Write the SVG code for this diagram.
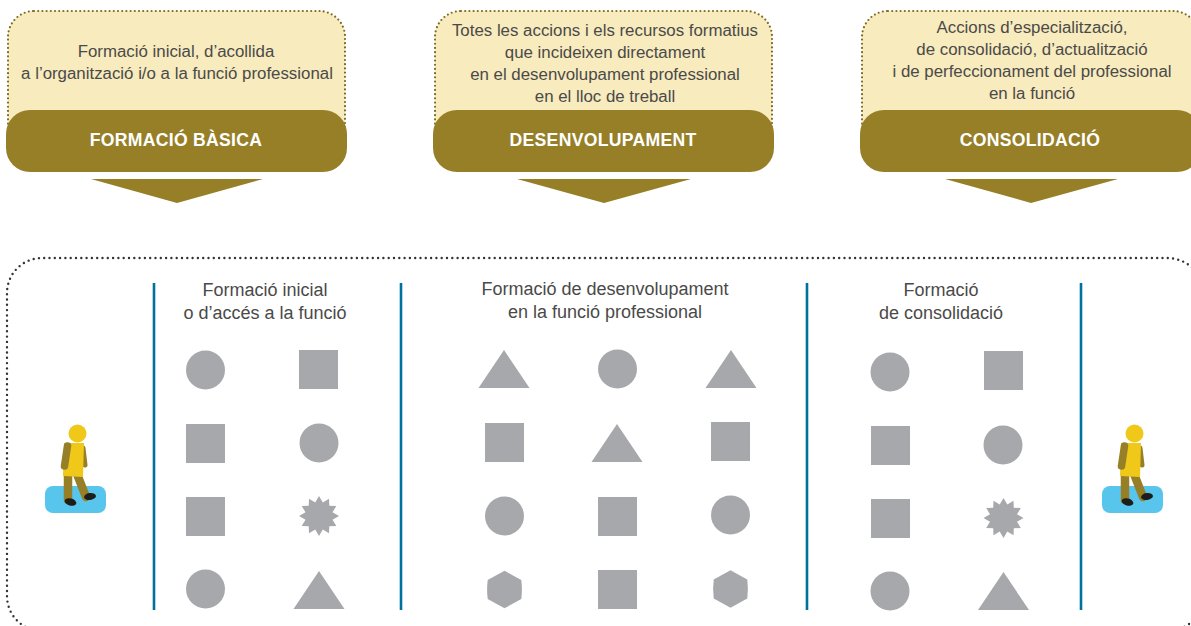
<svg xmlns="http://www.w3.org/2000/svg" xmlns:xlink="http://www.w3.org/1999/xlink" width="1191" height="626" viewBox="0 0 1191 626">
<style>
text{font-family:"Liberation Sans",Arial,sans-serif;font-size:16.85px;fill:#4a4a49;text-anchor:middle}
.ch{font-size:18px}
.h{font-weight:700;font-size:17.6px;fill:#fff;letter-spacing:.3px}
.panel{fill:#f8ebbd;stroke:#7d6c1f;stroke-width:2.200;stroke-dasharray:0 4.200;stroke-linecap:round}
.band,.tri{fill:#967f27}
.s{fill:#a7a8ab}
.v{stroke:#00709f;stroke-width:2.6;fill:none}
.f{fill:none;stroke:#333;stroke-width:2.400;stroke-dasharray:0 5.300;stroke-linecap:round}
.lim{stroke:#967f27;stroke-linecap:round;fill:none}
</style>
<defs>
<circle id="c" class="s" r="19.5"/>
<rect id="q" class="s" x="-19.5" y="-19.5" width="39" height="39"/>
<polygon id="t" class="s" points="0,-19 25.5,19 -25.5,19"/>
<path id="x" class="s" d="M0-18.800L16.800-9.500Q18 0 16.800 9.500L0 18.800L-16.800 9.500Q-18 0-16.800-9.500Z"/>
<polygon id="st" class="s" points="0,-20 3.800,-13.500 10,-17.300 10.300,-10.300 17.300,-10 13.500,-3.800 20,0 13.500,3.800 17.300,10 10.300,10.300 10,17.300 3.800,13.500 0,20 -3.800,13.500 -10,17.300 -10.300,10.300 -17.300,10 -13.500,3.800 -20,0 -13.500,-3.800 -17.300,-10 -10.300,-10.300 -10,-17.300 -3.800,-13.500"/>
<g id="person">
<rect x="45" y="486" width="61" height="27" rx="8" fill="#58c6ec"/>
<path class="lim" stroke-width="8.500" d="M68 474V500" stroke-linecap="butt"/>
<path class="lim" stroke-width="8.500" d="M77 474L86 497"/>
<ellipse cx="70.500" cy="502" rx="6" ry="3.500" fill="#1d1d1b" transform="rotate(15 70.500 502)"/>
<ellipse cx="90" cy="496.500" rx="6" ry="3.500" fill="#1d1d1b" transform="rotate(-8 90 496.500)"/>
<path class="lim" stroke-width="5" d="M83 448L85 465"/>
<polygon points="64,443 84,443 83,477 63,476" fill="#efc81a"/>
<circle cx="77.500" cy="433.500" r="9" fill="#efc81a"/>
<path class="lim" stroke-width="7.500" d="M67.500 446L64.500 466"/>
</g>
</defs>

<g id="connectors">
<path class="v" d="M154 283V610M401 283V610M807 283V610M1081 283V610"/>
</g>

<g id="frame"><path class="f" d="M1205 640V296a38 38 0 0 0-38-38H42a35 35 0 0 0-35 35V596a35 35 0 0 0 35 35H1167a38 38 0 0 0 38-38"/></g>

<g id="basica">
<rect class="panel" x="8" y="11" width="337" height="140" rx="26"/>
<text x="176" y="57">Formació inicial, d’acollida</text>
<text x="177" y="79">a l’organització i/o a la funció professional</text>
<rect class="band" x="6" y="110" width="341" height="62" rx="24"/>
<text class="h" x="176" y="146">FORMACIÓ BÀSICA</text>
<polygon class="tri" points="91,179 263,179 177,203"/>
</g>
<g id="desenvolupament">
<rect class="panel" x="435" y="11" width="337" height="140" rx="26"/>
<text x="605" y="36">Totes les accions i els recursos formatius</text>
<text x="605" y="58">que incideixen directament</text>
<text x="605" y="80">en el desenvolupament professional</text>
<text x="605" y="102">en el lloc de treball</text>
<rect class="band" x="433" y="110" width="341" height="62" rx="24"/>
<text class="h" x="603" y="146">DESENVOLUPAMENT</text>
<polygon class="tri" points="517,179 691,179 604,203"/>
</g>
<g id="consolidacio">
<rect class="panel" x="862" y="11" width="337" height="140" rx="26"/>
<text x="1032" y="33">Accions d’especialització,</text>
<text x="1032" y="55">de consolidació, d’actualització</text>
<text x="1032" y="77">i de perfeccionament del professional</text>
<text x="1032" y="99">en la funció</text>
<rect class="band" x="860" y="110" width="341" height="62" rx="24"/>
<text class="h" x="1030" y="146">CONSOLIDACIÓ</text>
<polygon class="tri" points="945,179 1118,179 1031,203"/>
</g>

<g id="col1">
<text class="ch" x="265" y="296">Formació inicial</text>
<text class="ch" x="265" y="319">o d’accés a la funció</text>
<use href="#c" x="205.500" y="370"/><use href="#q" x="318.500" y="369.500"/>
<use href="#q" x="205.500" y="443.500"/><use href="#c" x="319" y="443"/>
<use href="#q" x="205.500" y="516.500"/><use href="#st" x="319" y="516"/>
<use href="#c" x="205.500" y="589"/><use href="#t" x="319" y="590"/>
</g>
<g id="col2">
<text class="ch" x="605" y="295">Formació de desenvolupament</text>
<text class="ch" x="605" y="318">en la funció professional</text>
<use href="#t" x="504" y="369"/><use href="#c" x="617.500" y="369"/><use href="#t" x="731" y="369"/>
<use href="#q" x="504.500" y="442.500"/><use href="#t" x="617" y="443"/><use href="#q" x="730.500" y="441.500"/>
<use href="#c" x="504.500" y="516"/><use href="#q" x="617.500" y="516.500"/><use href="#c" x="730.500" y="515"/>
<use href="#x" x="504.500" y="589.500"/><use href="#q" x="617.500" y="589.500"/><use href="#x" x="730.500" y="589"/>
</g>
<g id="col3">
<text class="ch" x="941" y="296">Formació</text>
<text class="ch" x="941" y="319">de consolidació</text>
<use href="#c" x="890" y="372"/><use href="#q" x="1003.500" y="370.500"/>
<use href="#q" x="890.500" y="445.500"/><use href="#c" x="1003" y="445"/>
<use href="#q" x="890.500" y="518.500"/><use href="#st" x="1003.500" y="518"/>
<use href="#c" x="890" y="591"/><use href="#t" x="1003.500" y="591"/>
</g>
<g id="person-start"><use href="#person"/></g>
<g id="person-end"><use href="#person" x="1057"/></g>
</svg>
